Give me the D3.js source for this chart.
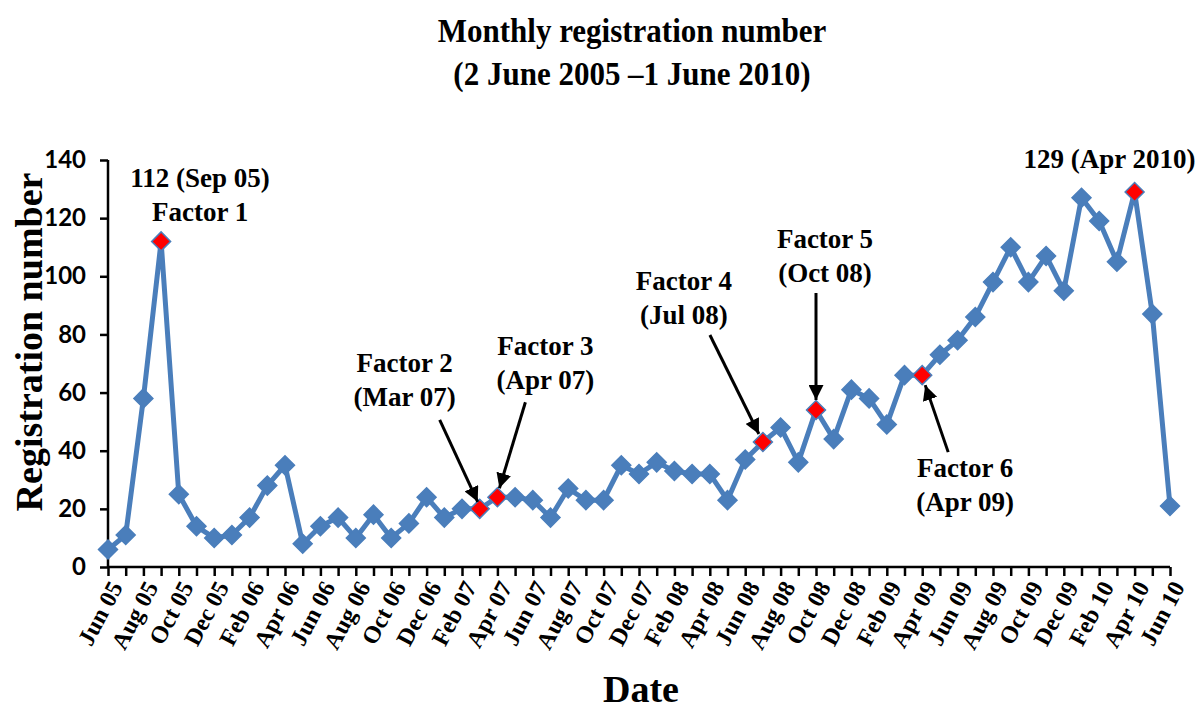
<!DOCTYPE html>
<html>
<head>
<meta charset="utf-8">
<script src="https://cdn.jsdelivr.net/npm/d3@7"></script>
<style>
  body { margin: 0; background: #fff; }
  svg { display: block; }
</style>
</head>
<body>
<div id="chart"></div>
<script>
// ---------- data ----------
const months = [
  "Jun 05","Jul 05","Aug 05","Sep 05","Oct 05","Nov 05","Dec 05",
  "Jan 06","Feb 06","Mar 06","Apr 06","May 06","Jun 06","Jul 06","Aug 06","Sep 06","Oct 06","Nov 06","Dec 06",
  "Jan 07","Feb 07","Mar 07","Apr 07","May 07","Jun 07","Jul 07","Aug 07","Sep 07","Oct 07","Nov 07","Dec 07",
  "Jan 08","Feb 08","Mar 08","Apr 08","May 08","Jun 08","Jul 08","Aug 08","Sep 08","Oct 08","Nov 08","Dec 08",
  "Jan 09","Feb 09","Mar 09","Apr 09","May 09","Jun 09","Jul 09","Aug 09","Sep 09","Oct 09","Nov 09","Dec 09",
  "Jan 10","Feb 10","Mar 10","Apr 10","May 10","Jun 10"
];
const registrations = [
  6, 11, 58, 112, 25, 14, 10,
  11, 17, 28, 35, 8, 14, 17, 10, 18, 10, 15, 24,
  17, 20, 20, 24, 24, 23, 17, 27, 23, 23, 35, 32,
  36, 33, 32, 32, 23, 37, 43, 48, 36, 54, 44, 61,
  58, 49, 66, 66, 73, 78, 86, 98, 110, 98, 107, 95,
  127, 119, 105, 129, 87, 21
];
const yTicks = [0, 20, 40, 60, 80, 100, 120, 140];
const highlightMonths = ["Sep 05", "Mar 07", "Apr 07", "Jul 08", "Oct 08", "Apr 09", "Apr 10"];
const annotationMonths = ["Sep 05", "Mar 07", "Apr 07", "Jul 08", "Oct 08", "Apr 09", "Apr 10"];
const annotationLines = [
  ["112 (Sep 05)", "Factor 1"],
  ["Factor 2", "(Mar 07)"],
  ["Factor 3", "(Apr 07)"],
  ["Factor 4", "(Jul 08)"],
  ["Factor 5", "(Oct 08)"],
  ["Factor 6", "(Apr 09)"],
  ["129 (Apr 2010)"]
];
const titleLines = ["Monthly registration number", "(2 June 2005 \u20131 June 2010)"];

// ---------- layout ----------
const W = 1200, H = 713;
const mLeft = 108, mRight = 1170, mTop = 160, mBottom = 567;
const serif = "'Liberation Serif','Times New Roman',serif";
const sans = "Lato,'Liberation Sans',sans-serif";
const blue = "#4A7EBB";

const svg = d3.select("#chart").append("svg").attr("width", W).attr("height", H);

const x = d3.scalePoint().domain(months).range([mLeft, mRight]);
const y = d3.scaleLinear().domain([0, 140]).range([mBottom, mTop]);

// title
svg.append("g").selectAll("text").data(titleLines).join("text")
  .attr("transform", (d, i) => `translate(632,${42 + i * 43}) scale(1,1.06)`)
  .attr("text-anchor", "middle")
  .style("font-family", serif).style("font-weight", "bold").style("font-size", "31px")
  .text(d => d);

// y axis
const yAxis = svg.append("g").attr("transform", `translate(${mLeft},0)`)
  .call(d3.axisLeft(y).tickValues(yTicks).tickSize(8).tickPadding(14).tickFormat(d3.format("d")));
yAxis.select(".domain").attr("stroke", "#000").attr("stroke-width", 2.5).attr("d", `M0,${mTop}V${mBottom}`);
yAxis.selectAll(".tick line").attr("stroke", "#000").attr("stroke-width", 2.5);
yAxis.selectAll(".tick text")
  .style("font-family", sans).style("font-weight", "bold").style("font-size", "24px").attr("fill", "#000");

// x axis
const labelMonths = months.filter((d, i) => i % 2 === 0);
const xAxis = svg.append("g").attr("transform", `translate(0,${mBottom})`)
  .call(d3.axisBottom(x).tickSize(9).tickFormat(""));
xAxis.select(".domain").attr("stroke", "#000").attr("stroke-width", 2.5).attr("d", `M${mLeft},0H${mRight}`);
xAxis.selectAll(".tick line").attr("stroke", "#000").attr("stroke-width", 2.5);

svg.append("g").selectAll("text").data(labelMonths).join("text")
  .attr("transform", d => `translate(${x(d) + 8},${mBottom + 16}) rotate(-62)`)
  .attr("text-anchor", "end")
  .attr("dy", "0.35em")
  .style("font-family", serif).style("font-weight", "bold").style("font-size", "24px")
  .text(d => d);

// axis titles
svg.append("text")
  .attr("transform", `translate(42,342) rotate(-90)`)
  .attr("text-anchor", "middle")
  .style("font-family", serif).style("font-weight", "bold").style("font-size", "38px")
  .text("Registration number");
svg.append("text")
  .attr("x", 641).attr("y", 702)
  .attr("text-anchor", "middle")
  .style("font-family", serif).style("font-weight", "bold").style("font-size", "38px")
  .text("Date");

// line
const series = months.map((m, i) => ({ m, v: registrations[i] }));
svg.append("path").datum(series)
  .attr("fill", "none").attr("stroke", blue).attr("stroke-width", 5).attr("stroke-linejoin", "round")
  .attr("d", d3.line().x(d => x(d.m)).y(d => y(d.v)));

// markers
const diamond = d3.symbol().type(d3.symbolSquare).size(180);
svg.append("g").selectAll("path").data(series).join("path")
  .attr("d", diamond)
  .attr("transform", d => `translate(${x(d.m)},${y(d.v)}) rotate(45)`)
  .attr("fill", d => highlightMonths.includes(d.m) ? "#FF0000" : blue)
  .attr("stroke", blue).attr("stroke-width", 1.5);

// arrowhead
svg.append("defs").append("marker")
  .attr("id", "arrow").attr("viewBox", "0 0 10 10")
  .attr("refX", 10).attr("refY", 5)
  .attr("markerWidth", 5).attr("markerHeight", 5)
  .attr("markerUnits", "strokeWidth")
  .attr("orient", "auto")
  .append("path").attr("d", "M0,0L10,5L0,10Z").attr("fill", "#000");

// annotation layout (pixel offsets relative to the annotated point)
const annLayout = [
  { dx: 39, dy: -54, arrow: null },
  { dx: -75, dy: -137, arrow: [-40, -89, -2, -7] },
  { dx: 48, dy: -142, arrow: [28, -95, 2, -9] },
  { dx: -79, dy: -152, arrow: [-53, -107, -4, -8] },
  { dx: 9, dy: -162, arrow: [0, -117, 0, -10] },
  { dx: 43, dy: 102, arrow: [26, 77, 3, 10] },
  { dx: -25, dy: -24, arrow: null }
];

annotationMonths.forEach((m, k) => {
  const px = x(m), py = y(registrations[months.indexOf(m)]);
  const L = annLayout[k];
  const g = svg.append("g");
  g.selectAll("text").data(annotationLines[k]).join("text")
    .attr("x", px + L.dx)
    .attr("y", (d, i) => py + L.dy + i * 34)
    .attr("text-anchor", "middle")
    .style("font-family", serif).style("font-weight", "bold").style("font-size", "27px")
    .text(d => d);
  if (L.arrow) {
    g.append("line")
      .attr("x1", px + L.arrow[0]).attr("y1", py + L.arrow[1])
      .attr("x2", px + L.arrow[2]).attr("y2", py + L.arrow[3])
      .attr("stroke", "#000").attr("stroke-width", 3)
      .attr("marker-end", "url(#arrow)");
  }
});
</script>
</body>
</html>
